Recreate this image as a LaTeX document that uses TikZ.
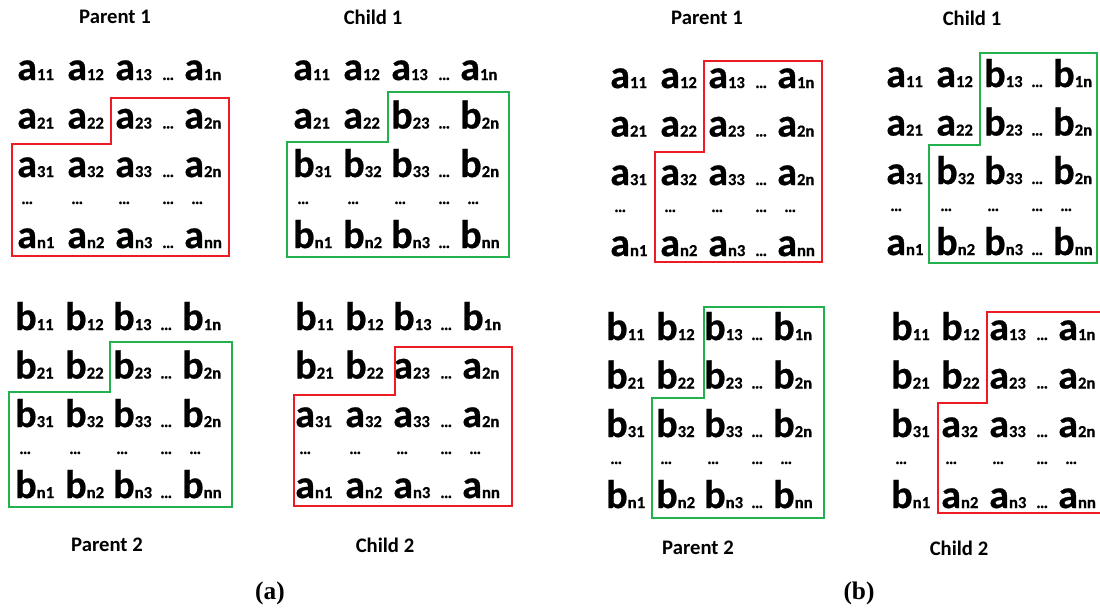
\documentclass[tikz,border=0pt]{standalone}
\usepackage{fontspec}
\setmainfont{Carlito}
\newfontfamily\heavyfont{Carlito}[BoldFeatures={FakeBold=0.5}]
\newfontfamily\capserif{Liberation Serif}
\usetikzlibrary{calc}

\definecolor{cutred}{RGB}{237,28,36}
\definecolor{cutgreen}{RGB}{34,177,76}

\tikzset{
  matentry/.style={anchor=base west, inner sep=0pt, font=\heavyfont\bfseries},
  matdots/.style={anchor=base west, inner sep=0pt, font=\heavyfont\bfseries\fontsize{12.5}{13}\selectfont},
  headtext/.style={inner sep=0pt, font=\bfseries\fontsize{15.5}{16}\selectfont},
  sublabel/.style={inner sep=0pt, font=\capserif\bfseries\fontsize{19}{19}\selectfont},
  redcut/.style={draw=cutred, line width=2.2pt},
  greencut/.style={draw=cutgreen, line width=2.2pt}
}

\newcommand{\mcell}[2]{{\fontsize{30}{30}\selectfont #1}{\fontsize{12.5}{13}\selectfont #2}}

% one row of a matrix: name, row, y offset, letter/index list
\newcommand{\matrow}[4]{%
  \foreach \lt/\sb [count=\k] in {#4} {
    \pgfmathsetmacro{\dx}{{0,50,98,167}[\k-1]}
    \node[matentry] (#1-#2-\k) at ($(#1)+(\dx,#3)$) {\mcell{\lt}{\sb}};
  }
  \node[matdots] (#1-#2-d) at ($(#1)+(145,#3)$) {…};
}

\newcommand{\crossmat}[6]{%
  \coordinate (#1) at #2;
  \matrow{#1}{1}{0}{#3}
  \matrow{#1}{2}{48.5}{#4}
  \matrow{#1}{3}{97}{#5}
  \foreach \dx [count=\k] in {4,54,101,145,174}
    \node[matdots] (#1-d-\k) at ($(#1)+(\dx,124)$) {…};
  \matrow{#1}{n}{168}{#6}
}

\begin{document}
\begin{tikzpicture}[x=0.75pt,y=-0.75pt]
\clip (0,0) rectangle (1100,612);

% (a)
\node[headtext] (ap1-t) at (115,17) {Parent 1};
\node[headtext] (ac1-t) at (373,17) {Child 1};
\node[headtext] (ap2-t) at (107,545) {Parent 2};
\node[headtext] (ac2-t) at (385,545) {Child 2};

\crossmat{ap1}{(17,80)}{a/11,a/12,a/13,a/1n}{a/21,a/22,a/23,a/2n}{a/31,a/32,a/33,a/2n}{a/n1,a/n2,a/n3,a/nn}
\crossmat{ac1}{(293,80)}{a/11,a/12,a/13,a/1n}{a/21,a/22,b/23,b/2n}{b/31,b/32,b/33,b/2n}{b/n1,b/n2,b/n3,b/nn}
\crossmat{ap2}{(15,330)}{b/11,b/12,b/13,b/1n}{b/21,b/22,b/23,b/2n}{b/31,b/32,b/33,b/2n}{b/n1,b/n2,b/n3,b/nn}
\crossmat{ac2}{(295,330)}{b/11,b/12,b/13,b/1n}{b/21,b/22,a/23,a/2n}{a/31,a/32,a/33,a/2n}{a/n1,a/n2,a/n3,a/nn}

\draw[redcut] (12,144) -- (111,144) -- (111,98) -- (229,98) -- (229,256) -- (12,256) -- cycle;
\draw[greencut] (287,142) -- (388,142) -- (388,92) -- (509,92) -- (509,257) -- (287,257) -- cycle;
\draw[greencut] (9,392) -- (110,392) -- (110,342) -- (232,342) -- (232,507) -- (9,507) -- cycle;
\draw[redcut] (294,395) -- (395,395) -- (395,347) -- (512,347) -- (512,506) -- (294,506) -- cycle;

% (b)
\node[headtext] (bp1-t) at (707,18) {Parent 1};
\node[headtext] (bc1-t) at (972,18) {Child 1};
\node[headtext] (bp2-t) at (698,548) {Parent 2};
\node[headtext] (bc2-t) at (959,548) {Child 2};

\crossmat{bp1}{(610,88)}{a/11,a/12,a/13,a/1n}{a/21,a/22,a/23,a/2n}{a/31,a/32,a/33,a/2n}{a/n1,a/n2,a/n3,a/nn}
\crossmat{bc1}{(886,87)}{a/11,a/12,b/13,b/1n}{a/21,a/22,b/23,b/2n}{a/31,b/32,b/33,b/2n}{a/n1,b/n2,b/n3,b/nn}
\crossmat{bp2}{(606,340)}{b/11,b/12,b/13,b/1n}{b/21,b/22,b/23,b/2n}{b/31,b/32,b/33,b/2n}{b/n1,b/n2,b/n3,b/nn}
\crossmat{bc2}{(891,340)}{b/11,b/12,a/13,a/1n}{b/21,b/22,a/23,a/2n}{b/31,a/32,a/33,a/2n}{b/n1,a/n2,a/n3,a/nn}

\draw[redcut] (704,61) -- (822,61) -- (822,262) -- (655,262) -- (655,152) -- (704,152) -- cycle;
\draw[greencut] (980,53) -- (1097,53) -- (1097,263) -- (929,263) -- (929,145) -- (980,145) -- cycle;
\draw[greencut] (704,307) -- (824,307) -- (824,518) -- (652,518) -- (652,398) -- (704,398) -- cycle;
\draw[redcut] (987,312) -- (1106,312) -- (1106,513) -- (938,513) -- (938,403) -- (987,403) -- cycle;

\node[sublabel] (lab-a) at (270,593) {(a)};
\node[sublabel] (lab-b) at (859,593) {(b)};
\end{tikzpicture}
\end{document}
